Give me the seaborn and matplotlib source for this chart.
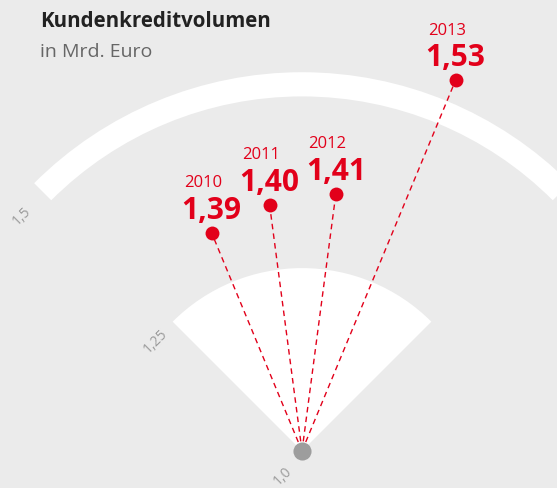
import numpy as np
import pandas as pd
import matplotlib
matplotlib.use("Agg")
import matplotlib.pyplot as plt
import seaborn as sns

# Daten
jahre = ["2010", "2011", "2012", "2013"]
werte = [1.39, 1.40, 1.41, 1.53]
wert_labels = ["1,39", "1,40", "1,41", "1,53"]
achsen_werte = [1.0, 1.25, 1.5]
achsen_labels = ["1,0", "1,25", "1,5"]

ROT = "#e2001a"
GRAU_BG = "#ebebeb"

sns.set_style("white")
plt.rcParams["font.family"] = ["Open Sans", "DejaVu Sans"]

W, H = 557, 488
fig = plt.figure(figsize=(W / 100, H / 100), dpi=100, facecolor=GRAU_BG)

# Polar-Achse: Zentrum bei Pixel (302, 451)
r0 = 1.19          # Radius im Zentrum
rmax = 1.62
px_pro_einheit = 1180
R = (rmax - r0) * px_pro_einheit
cx, cy = 302, H - 451
ax = fig.add_axes([(cx - R) / W, (cy - R) / H, 2 * R / W, 2 * R / H], projection="polar")
ax.set_theta_zero_location("N")
ax.set_theta_direction(-1)
ax.set_ylim(r0, rmax)
ax.axis("off")

# Hintergrund-Elemente (Fächer und Bogen)
fach_r = 1.345
ax.bar(0, fach_r - r0, width=np.pi / 2, bottom=r0, color="white", zorder=1, linewidth=0)
bogen_r = 1.5
ax.bar(0, 0.0205, width=np.pi / 2, bottom=bogen_r - 0.0095, color="white", zorder=1, linewidth=0)

# Winkel je Jahr
winkel = np.deg2rad([(i - 1.5) * 15 for i in range(len(jahre))])
df = pd.DataFrame({"jahr": jahre, "wert": werte, "theta": winkel, "label": wert_labels})

# gestrichelte Linien vom Zentrum
ax.vlines(df["theta"], r0, df["wert"], colors=ROT, linestyles=(0, (4, 3)), linewidth=1, zorder=2)

sns.scatterplot(data=df, x="theta", y="wert", ax=ax, color=ROT, s=100, linewidth=0, zorder=4, legend=False)
ax.scatter([0], [r0], s=170, color="#9d9d9d", zorder=5, clip_on=False, linewidth=0)

for _, row in df.iterrows():
    ax.annotate(row["label"], (row["theta"], row["wert"]), xytext=(0, 10), textcoords="offset points",
                ha="center", va="baseline", color=ROT, fontsize=21.5, fontweight="bold",
                annotation_clip=False, zorder=6)
    ax.annotate(row["jahr"], (row["theta"], row["wert"]), xytext=(-6, 33), textcoords="offset points",
                ha="center", va="baseline", color=ROT, fontsize=12,
                annotation_clip=False, zorder=6)

# Achsenbeschriftungen
label_pos = [(0.0, r0), (np.deg2rad(-53), fach_r), (np.deg2rad(-50), bogen_r)]
label_off = [(-14, -18), (0, 0), (0, 0)]
for txt, (th, rr), off in zip(achsen_labels, label_pos, label_off):
    ax.annotate(txt, (th, rr), xytext=off, textcoords="offset points", ha="center", va="center",
                rotation=45, color="#9a9a9a", fontsize=10, annotation_clip=False)

fig.text(40 / W, 1 - 27 / H, "Kundenkreditvolumen", fontsize=14.8, fontweight="bold",
         color="#222222", va="baseline", ha="left")
fig.text(40 / W, 1 - 57 / H, "in Mrd. Euro", fontsize=14, color="#666666", va="baseline", ha="left")

fig.savefig("out.png", dpi=100, facecolor=GRAU_BG)
